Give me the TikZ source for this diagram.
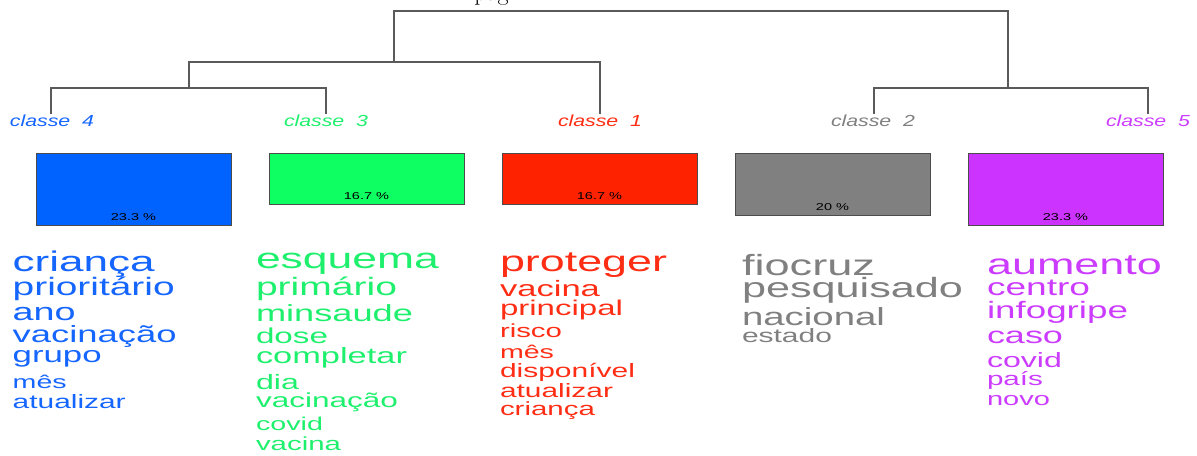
\documentclass[tikz,border=0pt]{standalone}
\usepackage{fontspec}
\usepackage{graphicx}
\newfontfamily\arial{Liberation Sans}
\definecolor{cblue}{RGB}{21,101,255}
\definecolor{bblue}{RGB}{0,99,255}
\definecolor{cgreen}{RGB}{30,240,110}
\definecolor{bgreen}{RGB}{14,255,98}
\definecolor{cred}{RGB}{255,45,20}
\definecolor{bred}{RGB}{255,34,0}
\definecolor{cgray}{RGB}{128,128,128}
\definecolor{bgray}{RGB}{128,128,128}
\definecolor{cpurp}{RGB}{204,60,255}
\definecolor{bpurp}{RGB}{204,51,255}
\definecolor{dline}{RGB}{90,90,90}
\newcommand\wc[3]{\resizebox{\dimexpr0.75pt*#1\relax}{\height}{\arial\fontsize{#2}{#2}\selectfont #3}}
\newcommand\clab[1]{\resizebox{63pt}{\height}{\arial\itshape\fontsize{12}{12}\selectfont classe~~#1}}
\newcommand\pct[1]{\scalebox{1.45}[1]{\arial\fontsize{7.5}{8}\selectfont #1}}
\tikzset{
  word/.style={anchor=base west, inner sep=0pt, outer sep=0pt},
  clsl/.style={anchor=base, inner sep=0pt, outer sep=0pt},
  classbox/.style={draw=black!70, line width=0.6pt, anchor=north west,
     minimum width=146.25pt, inner sep=0pt, outer sep=0pt},
  pctl/.style={anchor=base, inner sep=0pt, text={RGB:red,30;green,30;blue,30}},
  dend/.style={draw=dline, line width=1.1pt},
}
\begin{document}
\begin{tikzpicture}[x=0.75pt, y=-0.75pt]
\useasboundingbox (0,0) rectangle (1197,455);
% fragment of text cut off at the top
\node[anchor=base west, inner sep=0pt, font=\fontsize{18}{18}\selectfont] (pg) at (474,0) {pág};
% tick tops and junctions
\coordinate (t4) at (51,114);
\coordinate (t3) at (326,114);
\coordinate (t1) at (600,114);
\coordinate (t2) at (874,114);
\coordinate (t5) at (1148,114);
\coordinate (j43) at (189,88);
\coordinate (j431) at (394,62);
\coordinate (root) at (701,11);
\coordinate (j25) at (1008,88);
\draw[dend] (t4) |- (j43) -| (t3);
\draw[dend] (j43) |- (j431) -| (t1);
\draw[dend] (j431) |- (root) -| (j25);
\draw[dend] (t2) |- (j25) -| (t5);
% class labels
\node[clsl, text=cblue]  (L4) at (52,126)   {\clab{4}};
\node[clsl, text=cgreen] (L3) at (326,126)  {\clab{3}};
\node[clsl, text=cred]   (L1) at (600,126)  {\clab{1}};
\node[clsl, text=cgray]  (L2) at (873,126)  {\clab{2}};
\node[clsl, text=cpurp]  (L5) at (1148,126) {\clab{5}};
% boxes
\node[classbox, fill=bblue,  minimum height=54pt]    (B4) at (36,153)  {};
\node[classbox, fill=bgreen, minimum height=38.25pt] (B3) at (269,153) {};
\node[classbox, fill=bred,   minimum height=38.25pt] (B1) at (502,153) {};
\node[classbox, fill=bgray,  minimum height=46.5pt]  (B2) at (735,153) {};
\node[classbox, fill=bpurp,  minimum height=54pt]    (B5) at (968,153) {};
\node[pctl] (P4) at ([yshift=3.75pt]B4.south) {\pct{23.3 \%}};
\node[pctl] (P3) at ([yshift=3.75pt]B3.south) {\pct{16.7 \%}};
\node[pctl] (P1) at ([yshift=3.75pt]B1.south) {\pct{16.7 \%}};
\node[pctl] (P2) at ([yshift=3.75pt]B2.south) {\pct{20 \%}};
\node[pctl] (P5) at ([yshift=3.75pt]B5.south) {\pct{23.3 \%}};
% class 4 words
\begin{scope}[text=cblue]
\node[word] (w41) at (12.7,271.7) {\wc{142}{21.3}{criança}};
\node[word] (w42) at (12.7,295)   {\wc{162}{18.9}{prioritário}};
\node[word] (w43) at (12.7,320)   {\wc{63}{18.4}{ano}};
\node[word] (w44) at (12.7,342.7) {\wc{164}{17.6}{vacinação}};
\node[word] (w45) at (12.7,362)   {\wc{89}{16.8}{grupo}};
\node[word] (w46) at (12.7,388.3) {\wc{54}{13.8}{mês}};
\node[word] (w47) at (12.7,408.3) {\wc{113}{14.5}{atualizar}};
\end{scope}
% class 3 words
\begin{scope}[text=cgreen]
\node[word] (w31) at (256,268)   {\wc{183}{21.5}{esquema}};
\node[word] (w32) at (256,295)   {\wc{141}{18.9}{primário}};
\node[word] (w33) at (256,321.7) {\wc{157}{17.5}{minsaude}};
\node[word] (w34) at (256,343)   {\wc{72}{16.1}{dose}};
\node[word] (w35) at (256,363)   {\wc{151}{16.6}{completar}};
\node[word] (w36) at (256,389)   {\wc{43}{15.6}{dia}};
\node[word] (w37) at (256,407)   {\wc{142}{15.2}{vacinação}};
\node[word] (w38) at (256,430)   {\wc{67}{13.9}{covid}};
\node[word] (w39) at (256,450)   {\wc{85}{14.2}{vacina}};
\end{scope}
% class 1 words
\begin{scope}[text=cred]
\node[word] (w11) at (500,271.7) {\wc{167}{21.7}{proteger}};
\node[word] (w12) at (500,296)   {\wc{100}{16.7}{vacina}};
\node[word] (w13) at (500,315)   {\wc{123}{16.0}{principal}};
\node[word] (w14) at (500,337)   {\wc{62}{14.2}{risco}};
\node[word] (w15) at (500,358)   {\wc{54}{13.8}{mês}};
\node[word] (w16) at (500,377)   {\wc{135}{14.5}{disponível}};
\node[word] (w17) at (500,397)   {\wc{113}{14.5}{atualizar}};
\node[word] (w18) at (500,415)   {\wc{95}{14.3}{criança}};
\end{scope}
% class 2 words
\begin{scope}[text=cgray]
\node[word] (w21) at (742,275) {\wc{133}{21.9}{fiocruz}};
\node[word] (w22) at (742,297) {\wc{221}{20.9}{pesquisado}};
\node[word] (w23) at (742,325) {\wc{143}{18.6}{nacional}};
\node[word] (w24) at (742,342) {\wc{90}{14.5}{estado}};
\end{scope}
% class 5 words
\begin{scope}[text=cpurp]
\node[word] (w51) at (987,274) {\wc{175}{21.8}{aumento}};
\node[word] (w52) at (987,295) {\wc{103}{18.0}{centro}};
\node[word] (w53) at (987,318) {\wc{141}{17.8}{infogripe}};
\node[word] (w54) at (987,343) {\wc{76}{17.4}{caso}};
\node[word] (w55) at (987,367) {\wc{75}{15.5}{covid}};
\node[word] (w56) at (987,385) {\wc{56}{14.3}{país}};
\node[word] (w57) at (987,405) {\wc{63}{14.1}{novo}};
\end{scope}
\end{tikzpicture}
\end{document}
